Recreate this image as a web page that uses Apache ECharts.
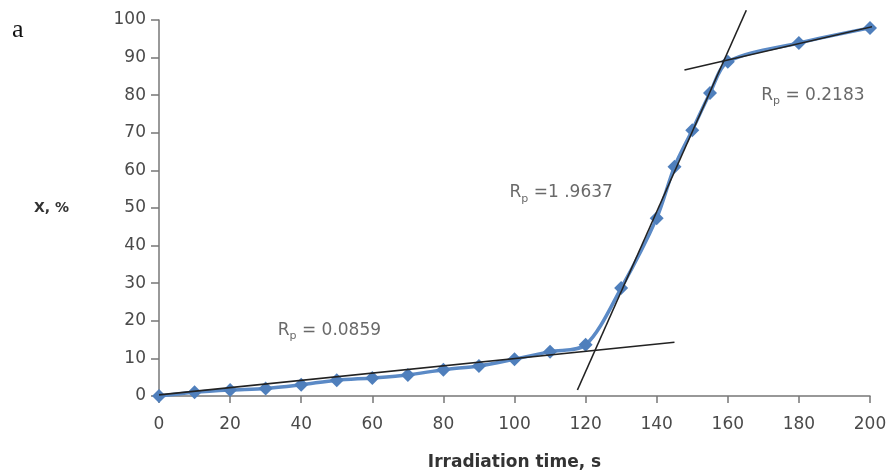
<!DOCTYPE html>
<html>
<head>
<meta charset="utf-8">
<script src="https://cdn.jsdelivr.net/npm/echarts@6/dist/echarts.min.js"></script>
<style>
  html, body { margin: 0; padding: 0; background: #fff; }
  #chart { width: 890px; height: 476px; }
</style>
</head>
<body>
<div id="chart"></div>
<script>
  // measured points (irradiation time s, conversion %)
  var timeData = [0, 10, 20, 30, 40, 50, 60, 70, 80, 90, 100, 110, 120, 130, 140, 145, 150, 155, 160, 180, 200];
  var convData = [0, 1, 1.6, 2, 3, 4.2, 4.8, 5.6, 7, 8, 9.8, 11.8, 13.6, 28.7, 47.3, 61, 70.7, 80.6, 88.9, 93.9, 97.9];

  // fitted straight lines drawn in black
  var fitLow = [[0, 0.3], [145, 14.3]];
  var fitMid = [[117.7, 1.6], [165.2, 102.6]];
  var fitHigh = [[147.8, 86.7], [205.6, 99.3]];

  // slope labels, anchored at data coords
  var slopeText = ['0.0859', '1 .9637', '0.2183'];
  var slopeSep = [' = ', ' =', ' = '];
  var slopePos = [[33.4, 17.5], [98.6, 54], [169.4, 80]];

  var tickFont = 'DejaVu Sans';

  var myChart = echarts.init(document.getElementById('chart'));

  var points = timeData.map(function (t, i) { return [t, convData[i]]; });
  var labels = slopePos.map(function (p, i) {
    return { value: p, lbl: slopeText[i], sep: slopeSep[i] };
  });

  var option = {
    animation: false,
    backgroundColor: '#fff',
    grid: { left: 159, right: 20, top: 20, bottom: 80, containLabel: false },
    graphic: [{
      type: 'text',
      left: 12,
      top: 17,
      style: { text: 'a', font: '26px "Liberation Serif"', fill: '#111' }
    }],
    xAxis: {
      type: 'value',
      min: 0,
      max: 200,
      interval: 20,
      name: 'Irradiation time, s',
      nameLocation: 'middle',
      nameGap: 58,
      nameTextStyle: { fontFamily: tickFont, fontWeight: 'bold', fontSize: 17, color: '#333' },
      axisLine: { lineStyle: { color: '#777', width: 1.5 } },
      axisTick: { length: 7, lineStyle: { color: '#777', width: 1.5 } },
      axisLabel: { margin: 20, fontFamily: tickFont, fontSize: 17, color: '#4a4a4a' },
      splitLine: { show: false }
    },
    yAxis: {
      type: 'value',
      min: 0,
      max: 100,
      interval: 10,
      name: 'X, %',
      nameLocation: 'middle',
      nameRotate: 0,
      nameGap: 90,
      nameTextStyle: { fontFamily: tickFont, fontWeight: 'bold', fontSize: 14, color: '#333' },
      axisLine: { show: true, lineStyle: { color: '#777', width: 1.5 } },
      axisTick: { show: true, length: 8, lineStyle: { color: '#777', width: 1.5 } },
      axisLabel: { margin: 13, fontFamily: tickFont, fontSize: 17, color: '#4a4a4a' },
      splitLine: { show: false }
    },
    series: [
      {
        type: 'line',
        data: points,
        smooth: 0.3,
        symbol: 'diamond',
        symbolSize: 14,
        lineStyle: { color: '#5b8ac6', width: 3.5 },
        itemStyle: { color: '#4f7fbc' },
        z: 2
      },
      {
        type: 'line', data: fitLow, symbol: 'none', clip: false,
        lineStyle: { color: '#222', width: 1.6 }, z: 3
      },
      {
        type: 'line', data: fitMid, symbol: 'none', clip: false,
        lineStyle: { color: '#222', width: 1.6 }, z: 3
      },
      {
        type: 'line', data: fitHigh, symbol: 'none', clip: false,
        lineStyle: { color: '#222', width: 1.6 }, z: 3
      },
      {
        type: 'scatter',
        data: labels,
        symbolSize: 0,
        silent: true,
        z: 4,
        label: {
          show: true,
          position: 'inside',
          align: 'left',
          verticalAlign: 'middle',
          formatter: function (p) {
            return '{r|R}{s|p}{r|' + p.data.sep + p.data.lbl + '}';
          },
          rich: {
            r: { fontFamily: tickFont, fontSize: 17, color: '#444' },
            s: { fontFamily: tickFont, fontSize: 11, color: '#444', verticalAlign: 'bottom', padding: [12, 0, 0, 0] }
          }
        }
      }
    ]
  };

  myChart.setOption(option);
</script>
</body>
</html>
